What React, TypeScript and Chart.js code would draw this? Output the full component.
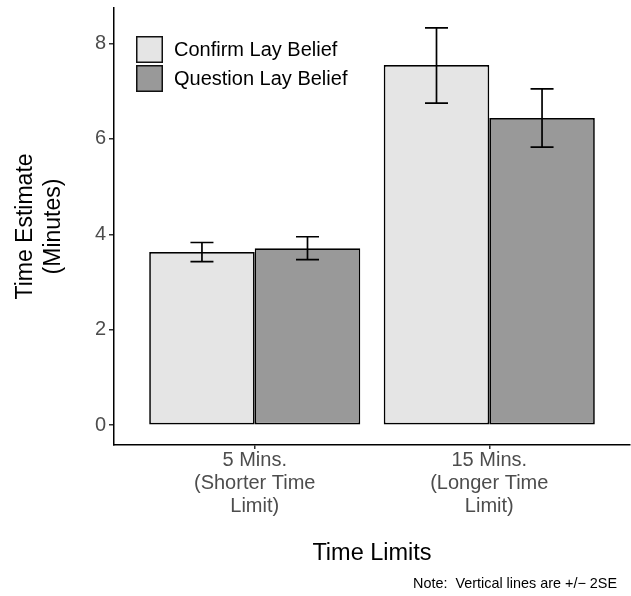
import React, { useEffect, useRef } from 'react';
import { Chart, registerables } from 'chart.js';

Chart.register(...registerables);

// ---- data ----
const groupPositions = [0, 1];
const groupLabels = [
  ['5 Mins.', '(Shorter Time', 'Limit)'],
  ['15 Mins.', '(Longer Time', 'Limit)'],
];
const seriesNames = ['Confirm Lay Belief', 'Question Lay Belief'];
const confirmMeans = [3.63, 7.55];
const confirmLow = [3.43, 6.75];
const confirmHigh = [3.83, 8.33];
const questionMeans = [3.71, 6.44];
const questionLow = [3.47, 5.83];
const questionHigh = [3.95, 7.05];
const yTicks = [0, 2, 4, 6, 8];
const seriesColors = ['#E5E5E5', '#999999'];
const yTitle = ['Time Estimate', '(Minutes)'];
const xTitle = 'Time Limits';
const noteText = 'Note:  Vertical lines are +/\u2212 2SE';

const FONT = '"Liberation Sans", Arial, Helvetica, sans-serif';

const errorBarPlugin = {
  id: 'errorBars',
  afterDatasetsDraw(chart: any) {
    const ctx = chart.ctx;
    const ys = chart.scales.y;
    chart.data.datasets.forEach((ds: any, i: number) => {
      const meta = chart.getDatasetMeta(i);
      meta.data.forEach((el: any, j: number) => {
        const yl = ys.getPixelForValue(ds.errLow[j]);
        const yh = ys.getPixelForValue(ds.errHigh[j]);
        const half = el.width * 0.109;
        ctx.save();
        ctx.strokeStyle = '#000';
        ctx.lineWidth = 1.7;
        ctx.beginPath();
        ctx.moveTo(el.x, yl);
        ctx.lineTo(el.x, yh);
        ctx.moveTo(el.x - half, yl);
        ctx.lineTo(el.x + half, yl);
        ctx.moveTo(el.x - half, yh);
        ctx.lineTo(el.x + half, yh);
        ctx.stroke();
        ctx.restore();
      });
    });
  },
};

const legendPlugin = {
  id: 'insideLegend',
  afterDraw(chart: any) {
    const ctx = chart.ctx;
    const x0 = 136;
    const y0 = 36;
    const box = 27;
    const step = 29;
    chart.data.datasets.forEach((ds: any, i: number) => {
      const y = y0 + i * step;
      ctx.save();
      ctx.fillStyle = ds.backgroundColor;
      ctx.fillRect(x0, y, box, box);
      ctx.strokeStyle = '#111';
      ctx.lineWidth = 1.5;
      ctx.strokeRect(x0 + 0.75, y + 0.75, box - 1.5, box - 1.5);
      ctx.fillStyle = '#000';
      ctx.font = `20px ${FONT}`;
      ctx.textBaseline = 'middle';
      ctx.textAlign = 'left';
      ctx.fillText(ds.label, 174, y + box / 2 + 0.5);
      ctx.restore();
    });
  },
};

const notePlugin = {
  id: 'note',
  afterDraw(chart: any) {
    const ctx = chart.ctx;
    ctx.save();
    ctx.fillStyle = '#000';
    ctx.font = `14.4px ${FONT}`;
    ctx.textAlign = 'right';
    ctx.textBaseline = 'middle';
    ctx.fillText(noteText, 617, 584);
    ctx.restore();
  },
};

export default function App() {
  const ref = useRef<HTMLCanvasElement | null>(null);

  useEffect(() => {
    if (!ref.current) return;
    const chart = new Chart(ref.current, {
      type: 'bar',
      data: {
        datasets: [
          {
            label: seriesNames[0],
            data: groupPositions.map((x, i) => ({ x, y: confirmMeans[i] })),
            errLow: confirmLow,
            errHigh: confirmHigh,
            backgroundColor: seriesColors[0],
            borderColor: '#000',
            borderWidth: 1.7,
            borderSkipped: false,
            barPercentage: 1,
            categoryPercentage: 0.9,
          } as any,
          {
            label: seriesNames[1],
            data: groupPositions.map((x, i) => ({ x, y: questionMeans[i] })),
            errLow: questionLow,
            errHigh: questionHigh,
            backgroundColor: seriesColors[1],
            borderColor: '#000',
            borderWidth: 1.7,
            borderSkipped: false,
            barPercentage: 1,
            categoryPercentage: 0.9,
          } as any,
        ],
      },
      options: {
        animation: false,
        responsive: false,
        devicePixelRatio: 1,
        layout: { padding: { left: 0, top: 8, right: 1, bottom: 0 } },
        plugins: {
          legend: { display: false },
          tooltip: { enabled: false },
        },
        scales: {
          x: {
            type: 'linear',
            min: -0.6,
            max: 1.6,
            offset: false,
            afterBuildTicks: (scale: any) => {
              scale.ticks = groupPositions.map((v) => ({ value: v }));
            },
            afterFit: (scale: any) => {
              scale.height = 151;
              scale.paddingLeft = 0;
              scale.paddingRight = 0;
            },
            ticks: {
              autoSkip: false,
              maxRotation: 0,
              minRotation: 0,
              padding: 0,
              color: '#4D4D4D',
              font: { family: FONT, size: 20, lineHeight: 1.15 },
              callback: (v: any) => {
                const idx = groupPositions.indexOf(Number(v));
                return idx >= 0 ? groupLabels[idx] : '';
              },
            },
            grid: {
              display: true,
              offset: false,
              drawOnChartArea: false,
              drawTicks: true,
              tickLength: 4,
              color: '#333',
              lineWidth: 1.5,
            },
            border: { display: true, color: '#000', width: 1.5 },
            title: {
              display: true,
              text: xTitle,
              color: '#000',
              font: { family: FONT, size: 23.5, lineHeight: 1.15 },
              padding: { top: 0, bottom: 28.5 },
            },
          },
          y: {
            type: 'linear',
            min: -0.416,
            max: 8.746,
            afterBuildTicks: (scale: any) => {
              scale.ticks = yTicks.map((v) => ({ value: v }));
            },
            afterFit: (scale: any) => {
              scale.width = 114;
              scale.paddingTop = 0;
              scale.paddingBottom = 0;
            },
            ticks: {
              padding: 3,
              color: '#4D4D4D',
              font: { family: FONT, size: 20 },
            },
            grid: {
              display: true,
              offset: false,
              drawOnChartArea: false,
              drawTicks: true,
              tickLength: 5,
              color: '#333',
              lineWidth: 1.5,
            },
            border: { display: true, color: '#000', width: 1.5 },
            title: {
              display: true,
              text: yTitle,
              color: '#000',
              font: { family: FONT, size: 23, lineHeight: 28 / 23 },
              padding: { top: 12, bottom: 0 },
            },
          },
        },
      } as any,
      plugins: [errorBarPlugin, legendPlugin, notePlugin],
    });
    return () => chart.destroy();
  }, []);

  return (
    <div style={{ position: 'absolute', left: 0, top: 0, width: 631, height: 596, background: '#fff' }}>
      <canvas ref={ref} width={631} height={596} style={{ width: 631, height: 596, display: 'block' }} />
    </div>
  );
}
